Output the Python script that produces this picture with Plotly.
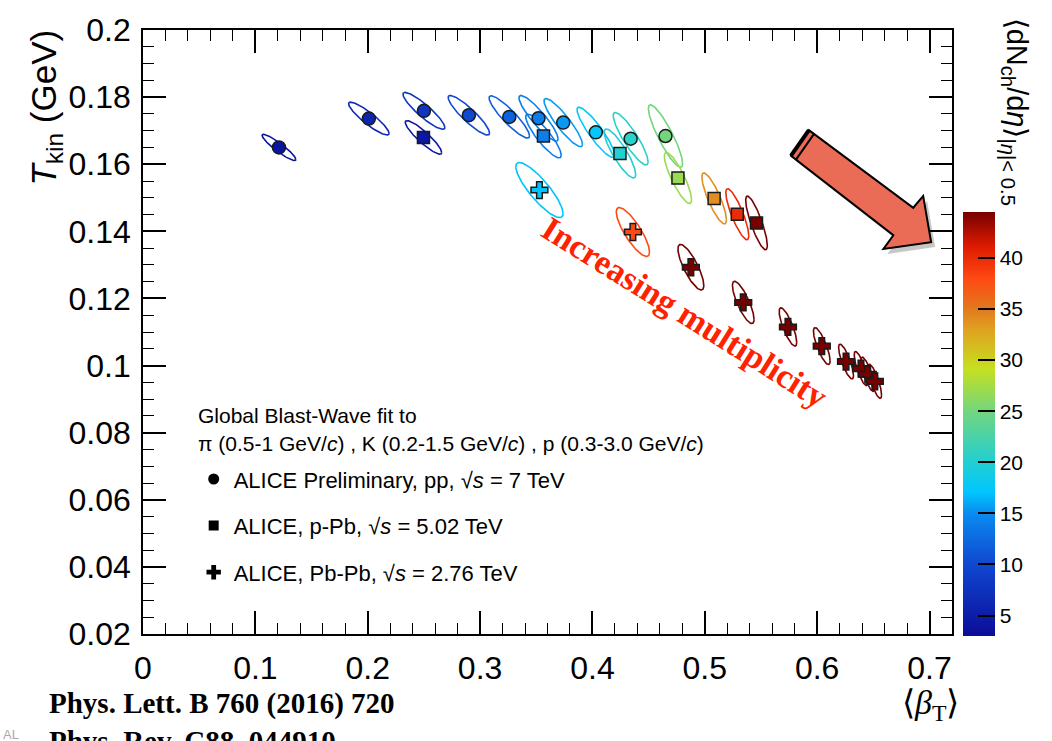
import numpy as np
import plotly.graph_objects as go
from plotly.colors import sample_colorscale

# ---------------- data ----------------
pp_beta = [0.121, 0.201, 0.250, 0.290, 0.326, 0.352, 0.374, 0.403, 0.434, 0.465]
pp_T = [0.1650, 0.1736, 0.1759, 0.1746, 0.1741, 0.1737, 0.1724, 0.1695, 0.1676, 0.1684]
pp_sbeta = [0.0150, 0.0180, 0.0186, 0.0184, 0.0180, 0.0174, 0.0171, 0.0167, 0.0155, 0.0152]
pp_sT = [0.0039, 0.0049, 0.0055, 0.0059, 0.0063, 0.0068, 0.0072, 0.0075, 0.0078, 0.0093]
pp_rho = [-0.92, -0.9, -0.9, -0.9, -0.9, -0.9, -0.9, -0.9, -0.88, -0.88]
pp_mult = [4.0, 6.0, 8.0, 10.0, 12.0, 14.0, 15.5, 17.5, 20.5, 25.0]

ppb_beta = [0.2496, 0.3564, 0.4245, 0.4761, 0.5083, 0.5289, 0.5460]
ppb_T = [0.1680, 0.1684, 0.1632, 0.1559, 0.1498, 0.1451, 0.1425]
ppb_sbeta = [0.0162, 0.0158, 0.0140, 0.0121, 0.0109, 0.0102, 0.0096]
ppb_sT = [0.0050, 0.0065, 0.0073, 0.0076, 0.0076, 0.0076, 0.0080]
ppb_rho = [-0.9, -0.88, -0.86, -0.85, -0.84, -0.84, -0.84]
ppb_mult = [4.3, 14.0, 20.0, 27.0, 34.0, 40.0, 45.0]

pbpb_beta = [0.3528, 0.4360, 0.4876, 0.5342, 0.5740, 0.6041, 0.6257, 0.6390, 0.6450, 0.6513]
pbpb_T = [0.1523, 0.1398, 0.1293, 0.1188, 0.1115, 0.1058, 0.1012, 0.0991, 0.0974, 0.0953]
pbpb_sbeta = [0.0210, 0.0148, 0.0115, 0.0096, 0.0078, 0.0074, 0.0066, 0.0060, 0.0060, 0.0060]
pbpb_sT = [0.0082, 0.0073, 0.0068, 0.0063, 0.0057, 0.0055, 0.0052, 0.0051, 0.0051, 0.0051]
pbpb_rho = [-0.85, -0.82, -0.8, -0.8, -0.8, -0.8, -0.8, -0.8, -0.8, -0.8]
pbpb_mult = [17.0, 38.0, 76.0, 149.0, 261.0, 426.0, 649.0, 966.0, 1294.0, 1601.0]

y_ticks = [0.02, 0.04, 0.06, 0.08, 0.1, 0.12, 0.14, 0.16, 0.18, 0.2]
y_ticktext = ["0.02", "0.04", "0.06", "0.08", "0.1", "0.12", "0.14", "0.16", "0.18", "0.2"]
x_ticks = [0, 0.1, 0.2, 0.3, 0.4, 0.5, 0.6, 0.7]
x_ticktext = ["0", "0.1", "0.2", "0.3", "0.4", "0.5", "0.6", "0.7"]
cbar_ticks = [5, 10, 15, 20, 25, 30, 35, 40]

CMIN, CMAX = 3.0, 44.5

colorscale = [
    [0.00, "#0c0c96"],
    [0.05, "#0c1eaa"],
    [0.17, "#1048d0"],
    [0.29, "#0a8cf0"],
    [0.34, "#00c6ff"],
    [0.41, "#22cfd2"],
    [0.53, "#72d67e"],
    [0.63, "#c6e020"],
    [0.725, "#e0a020"],
    [0.77, "#e27a1e"],
    [0.845, "#ff4812"],
    [0.92, "#dc1a00"],
    [1.00, "#760000"],
]

# ---------------- geometry helpers (layout) ----------------
FW, FH = 1052, 741
ML, MR, MT, MB = 143, 95, 19, 107
PW, PH = FW - ML - MR, FH - MT - MB


def px(xp):
    return (xp - ML) / PW


def py(yp):
    return (FH - MB - yp) / PH


def mult_color(m):
    v = (min(max(m, CMIN), CMAX) - CMIN) / (CMAX - CMIN)
    return sample_colorscale(colorscale, [v])[0]


fig = go.Figure()

t = np.linspace(0, 2 * np.pi, 120)


def add_ellipses(beta, T, sb, sT, rho, mult):
    for b, tt, s1, s2, r, m in zip(beta, T, sb, sT, rho, mult):
        ex = b + s1 * np.cos(t)
        ey = tt + s2 * (r * np.cos(t) + np.sqrt(1 - r * r) * np.sin(t))
        fig.add_trace(go.Scatter(x=ex, y=ey, mode="lines",
                                 line=dict(color=mult_color(m), width=1.6),
                                 showlegend=False, hoverinfo="skip"))


add_ellipses(pp_beta, pp_T, pp_sbeta, pp_sT, pp_rho, pp_mult)
add_ellipses(ppb_beta, ppb_T, ppb_sbeta, ppb_sT, ppb_rho, ppb_mult)
add_ellipses(pbpb_beta, pbpb_T, pbpb_sbeta, pbpb_sT, pbpb_rho, pbpb_mult)

mline = dict(color="#1a1a1a", width=1.5)
fig.add_trace(go.Scatter(x=pp_beta, y=pp_T, mode="markers", showlegend=False,
                         marker=dict(symbol="circle", size=13, color=pp_mult,
                                     coloraxis="coloraxis", line=mline)))
fig.add_trace(go.Scatter(x=ppb_beta, y=ppb_T, mode="markers", showlegend=False,
                         marker=dict(symbol="square", size=12, color=ppb_mult,
                                     coloraxis="coloraxis", line=mline)))
fig.add_trace(go.Scatter(x=pbpb_beta, y=pbpb_T, mode="markers", showlegend=False,
                         marker=dict(symbol="cross", size=14, color=pbpb_mult,
                                     coloraxis="coloraxis", line=mline)))

# legend entries
legend_names = ["ALICE Preliminary, pp, √<i>s</i> = 7 TeV",
                "ALICE, p-Pb, √<i>s</i> = 5.02 TeV",
                "ALICE, Pb-Pb, √<i>s</i> = 2.76 TeV"]
legend_symbols = ["circle", "square", "cross"]
legend_sizes = [11, 10, 12]
for i, (nm, sym, sz) in enumerate(zip(legend_names, legend_symbols, legend_sizes)):
    fig.add_trace(go.Scatter(x=[None], y=[None], mode="markers", name=nm,
                             legendgroup=f"g{i}",
                             marker=dict(symbol=sym, size=sz, color="black",
                                         line=dict(width=0))))

axis_common = dict(
    showline=True, linecolor="black", linewidth=1.6, mirror="ticks",
    ticks="inside", ticklen=23, tickwidth=1.5, tickcolor="black",
    showgrid=False, zeroline=False,
    tickfont=dict(family="Liberation Sans", size=32, color="black"),
)

fig.update_layout(
    width=FW, height=FH,
    margin=dict(l=ML, r=MR, t=MT, b=MB),
    paper_bgcolor="white", plot_bgcolor="white",
    xaxis=dict(range=[0, 0.72], tickvals=x_ticks, ticktext=x_ticktext,
               minor=dict(dtick=0.02, ticks="inside", ticklen=11, tickwidth=1.3,
                          tickcolor="black", showgrid=False),
               ticklabelstandoff=5, **axis_common),
    yaxis=dict(range=[0.02, 0.2], tickvals=y_ticks, ticktext=y_ticktext,
               minor=dict(dtick=0.005, ticks="inside", ticklen=11, tickwidth=1.3,
                          tickcolor="black", showgrid=False),
               ticklabelstandoff=4, **axis_common),
    coloraxis=dict(
        colorscale=colorscale, cmin=CMIN, cmax=CMAX,
        colorbar=dict(
            thickness=32, thicknessmode="pixels",
            len=424, lenmode="pixels",
            x=px(968), xanchor="left", xpad=0,
            y=py(636), yanchor="bottom", ypad=0,
            outlinewidth=0,
            ticks="inside", ticklen=17, tickwidth=1.5, tickcolor="black",
            tickvals=cbar_ticks,
            tickfont=dict(family="Liberation Sans", size=21, color="black"),
        ),
    ),
    legend=dict(x=px(194), y=py(455), xanchor="left", yanchor="top",
                bgcolor="rgba(0,0,0,0)", tracegroupgap=15,
                font=dict(family="Liberation Sans", size=22, color="black"),
                itemwidth=30),
)

ann = []
ann.append(dict(text="<i>T</i><sub>kin</sub> (GeV)", textangle=-90,
                x=px(45), y=py(17), xref="paper", yref="paper",
                xanchor="center", yanchor="top", showarrow=False,
                font=dict(family="Liberation Sans", size=35, color="black")))
ann.append(dict(text="⟨<i>β</i><sub>T</sub>⟩",
                x=px(966), y=py(683), xref="paper", yref="paper",
                xanchor="right", yanchor="top", showarrow=False,
                font=dict(family="Liberation Serif", size=34, color="black")))
ann.append(dict(text="⟨dN<sub>ch</sub>/d<i>η</i>⟩<sub>|<i>η</i>|< 0.5</sub>", textangle=90,
                x=px(1020), y=py(4), xref="paper", yref="paper",
                xanchor="center", yanchor="top", showarrow=False,
                font=dict(family="Liberation Sans", size=29, color="black")))
ann.append(dict(text="Global Blast-Wave fit to",
                x=px(196), y=py(412), xref="paper", yref="paper",
                xanchor="left", yanchor="middle", showarrow=False,
                font=dict(family="Liberation Sans", size=21, color="black")))
ann.append(dict(text="π (0.5-1 GeV/<i>c</i>) , K (0.2-1.5 GeV/<i>c</i>) , p (0.3-3.0 GeV/<i>c</i>)",
                x=px(196), y=py(440), xref="paper", yref="paper",
                xanchor="left", yanchor="middle", showarrow=False,
                font=dict(family="Liberation Sans", size=21, color="black")))
ann.append(dict(text="<b>Increasing multiplicity</b>", textangle=32,
                x=px(688), y=py(307), xref="paper", yref="paper",
                xanchor="center", yanchor="middle", showarrow=False,
                font=dict(family="Liberation Serif", size=34, color="#ff2200")))
ann.append(dict(text="<b>Phys. Lett. B 760 (2016) 720</b>",
                x=px(46), y=py(705), xref="paper", yref="paper",
                xanchor="left", yanchor="middle", showarrow=False,
                font=dict(family="Liberation Serif", size=29, color="black")))
ann.append(dict(text="<b>Phys. Rev. C88, 044910</b>",
                x=px(46), y=py(725), xref="paper", yref="paper",
                xanchor="left", yanchor="top", showarrow=False,
                font=dict(family="Liberation Serif", size=29, color="black")))
ann.append(dict(text="AL",
                x=px(0), y=py(727), xref="paper", yref="paper",
                xanchor="left", yanchor="top", showarrow=False,
                font=dict(family="Liberation Sans", size=13, color="#aaaaaa")))
fig.update_layout(annotations=ann)

# decorative arrow
arrow_px = [(813, 121), (918, 200), (928, 188), (936, 235), (888, 242), (898, 228), (795, 147)]


def path_from(pts, dx=0, dy=0):
    s = "M " + " L ".join(f"{px(a + dx):.5f},{py(b + dy):.5f}" for a, b in pts)
    return s + " Z"


shapes = [
    dict(type="path", xref="paper", yref="paper", path=path_from(arrow_px, 4, 5),
         fillcolor="rgba(0,0,0,0.22)", line=dict(width=0)),
    dict(type="path", xref="paper", yref="paper", path=path_from(arrow_px),
         fillcolor="#ea6b56", line=dict(color="black", width=2)),
    dict(type="line", xref="paper", yref="paper",
         x0=px(795), y0=py(147), x1=px(813), y1=py(121),
         line=dict(color="black", width=4)),
    dict(type="line", xref="paper", yref="paper",
         x0=px(800), y0=py(151), x1=px(818), y1=py(125),
         line=dict(color="black", width=2)),
]
fig.update_layout(shapes=shapes)

fig.write_html("out.html")
